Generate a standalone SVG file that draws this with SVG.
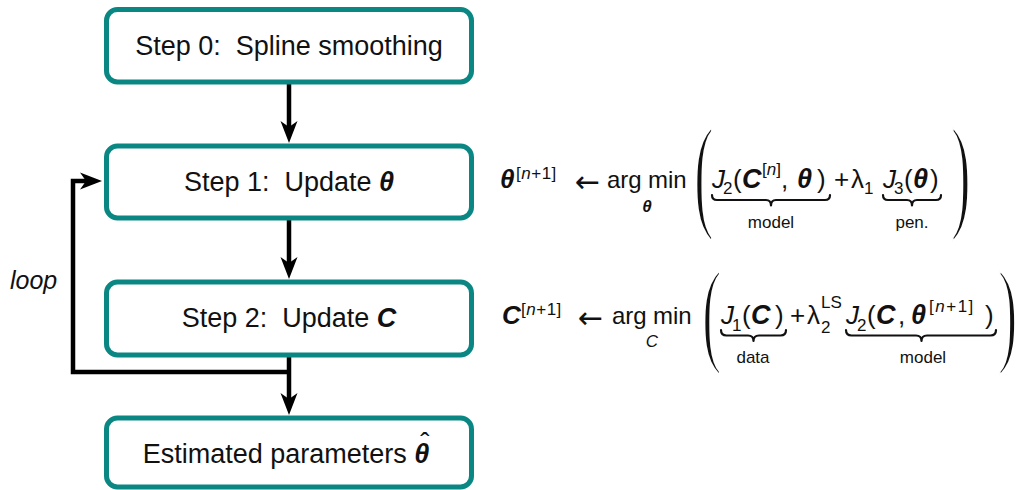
<svg xmlns="http://www.w3.org/2000/svg" width="1016" height="490" viewBox="0 0 1016 490">
<defs>
<style>
.box{fill:#fff;stroke:#0a8783;stroke-width:5}
.lbl{font-family:"Liberation Sans",Arial,sans-serif;font-size:27px;fill:#111;text-anchor:middle}
.m{font-family:"Liberation Sans",Arial,sans-serif;font-size:26px;fill:#111}
.s{font-size:17px}
.bi{font-weight:bold;font-style:italic}
.it{font-style:italic}
.par{font-family:"Liberation Serif","Times New Roman",serif;fill:#111;stroke:#fff;stroke-width:3}
.arr{font-family:"DejaVu Sans",sans-serif;font-size:30px;fill:#111}
.conn{fill:none;stroke:#000;stroke-width:4.5;stroke-linejoin:miter}
.brace{fill:none;stroke:#111;stroke-width:2.2;stroke-linecap:round;stroke-linejoin:round}
.note{font-family:"Liberation Sans",Arial,sans-serif;font-size:17px;fill:#111;text-anchor:middle}
</style>
<marker id="ah" markerUnits="userSpaceOnUse" viewBox="-24 -10 26 20" refX="-14" refY="0" markerWidth="26" markerHeight="20" orient="auto" overflow="visible">
<path d="M0,0 L-22,-8.5 L-16,0 L-22,8.5 Z" fill="#000"/>
</marker>
</defs>
<rect width="1016" height="490" fill="#fff"/>

<g id="connectors">
<path class="conn" d="M289,84 V129" marker-end="url(#ah)"/>
<path class="conn" d="M289,220 V265" marker-end="url(#ah)"/>
<path class="conn" d="M289,357 V401" marker-end="url(#ah)"/>
<path class="conn" d="M289,372 H73 V181 H88" marker-end="url(#ah)"/>
<text x="10" y="289" class="m it" style="font-size:25px">loop</text>
</g>

<g id="step0">
<rect class="box" x="106.5" y="9.5" width="365" height="72.5" rx="11"/>
<text class="lbl" x="289" y="55">Step 0:&#160; Spline smoothing</text>
</g>
<g id="step1">
<rect class="box" x="106.5" y="146" width="365" height="72" rx="11"/>
<text class="lbl" x="289" y="191">Step 1:&#160; Update <tspan class="bi">θ</tspan></text>
</g>
<g id="step2">
<rect class="box" x="106.5" y="282" width="365" height="73" rx="11"/>
<text class="lbl" x="289" y="327">Step 2:&#160; Update <tspan class="bi">C</tspan></text>
</g>
<g id="result">
<rect class="box" x="106.5" y="418" width="365" height="69" rx="11"/>
<text class="lbl" x="286" y="463">Estimated parameters <tspan class="bi">θ</tspan></text>
<text class="lbl" x="425" y="452" style="font-size:28px">ˆ</text>
</g>

<g id="eq-theta">
<text class="m" y="188"><tspan class="bi" x="500">θ</tspan><tspan class="s" x="516" y="179" style="letter-spacing:0.5px">[<tspan class="it">n</tspan>+1]</tspan></text>
<text class="arr" x="575" y="192">←</text>
<text class="m" y="188" style="font-size:24px"><tspan x="607">arg</tspan><tspan x="648">min</tspan></text>
<text class="m bi" x="647" y="212" style="font-size:17px;text-anchor:middle">θ</text>
<text class="par" transform="translate(694,214.7) scale(0.47,1)" style="font-size:126px">(</text>
<text class="m" y="188">
<tspan class="it" x="712">J</tspan><tspan class="s" x="723" y="194">2</tspan><tspan x="733" y="188">(</tspan><tspan class="bi" x="742" style="font-size:27px">C</tspan><tspan class="s" x="762" y="175">[<tspan class="it">n</tspan>]</tspan><tspan x="781" y="188">,</tspan><tspan class="bi" x="797" style="font-size:27px">θ</tspan><tspan x="817">)</tspan><tspan x="834">+</tspan><tspan x="851">λ</tspan><tspan class="s" x="864" y="194">1</tspan><tspan class="it" x="883" y="188">J</tspan><tspan class="s" x="894" y="194">3</tspan><tspan x="904" y="188">(</tspan><tspan class="bi" x="913" style="font-size:27px">θ</tspan><tspan x="930">)</tspan>
</text>
<path class="brace" d="M712,195 Q712,200 717,200 L766,200 Q771,200 771,205.5 Q771,200 776,200 L825,200 Q830,200 830,195"/>
<text class="note" x="771" y="228">model</text>
<path class="brace" d="M883,195 Q883,200 888,200 L907,200 Q912,200 912,205.5 Q912,200 917,200 L936,200 Q941,200 941,195"/>
<text class="note" x="912" y="228">pen.</text>
<text class="par" transform="translate(951,214.7) scale(0.47,1)" style="font-size:126px">)</text>
</g>

<g id="eq-C">
<text class="m" y="324"><tspan class="bi" x="502">C</tspan><tspan class="s" x="521" y="315" style="letter-spacing:0.5px">[<tspan class="it">n</tspan>+1]</tspan></text>
<text class="arr" x="578" y="328">←</text>
<text class="m" y="324" style="font-size:24px"><tspan x="612">arg</tspan><tspan x="653">min</tspan></text>
<text class="m it" x="652" y="347" style="font-size:17px;text-anchor:middle">C</text>
<text class="par" transform="translate(702,351.3) scale(0.5,1)" style="font-size:117px">(</text>
<text class="m" y="324">
<tspan class="it" x="721">J</tspan><tspan class="s" x="732" y="331">1</tspan><tspan x="742" y="324">(</tspan><tspan class="bi" x="751" style="font-size:27px">C</tspan><tspan x="775">)</tspan><tspan x="790">+</tspan><tspan x="807">λ</tspan><tspan class="s" x="821" y="333">2</tspan><tspan class="s" x="821" y="308">LS</tspan><tspan class="it" x="846" y="324">J</tspan><tspan class="s" x="857" y="331">2</tspan><tspan x="867" y="324">(</tspan><tspan class="bi" x="876" style="font-size:27px">C</tspan><tspan x="898">,</tspan><tspan class="bi" x="911" style="font-size:27px">θ</tspan><tspan class="s" x="929" y="312" style="letter-spacing:1.5px">[<tspan class="it">n</tspan>+1]</tspan><tspan x="985" y="324">)</tspan>
</text>
<path class="brace" d="M721,330 Q721,335.5 726.5,335.5 L748,335.5 Q753.5,335.5 753.5,341 Q753.5,335.5 759,335.5 L780.5,335.5 Q786,335.5 786,330"/>
<text class="note" x="753" y="363">data</text>
<path class="brace" d="M846,330 Q846,335.5 851.5,335.5 L916,335.5 Q921.5,335.5 921.5,341 Q921.5,335.5 927,335.5 L990.5,335.5 Q996,335.5 996,330"/>
<text class="note" x="923" y="363">model</text>
<text class="par" transform="translate(998,351.3) scale(0.5,1)" style="font-size:117px">)</text>
</g>
</svg>
